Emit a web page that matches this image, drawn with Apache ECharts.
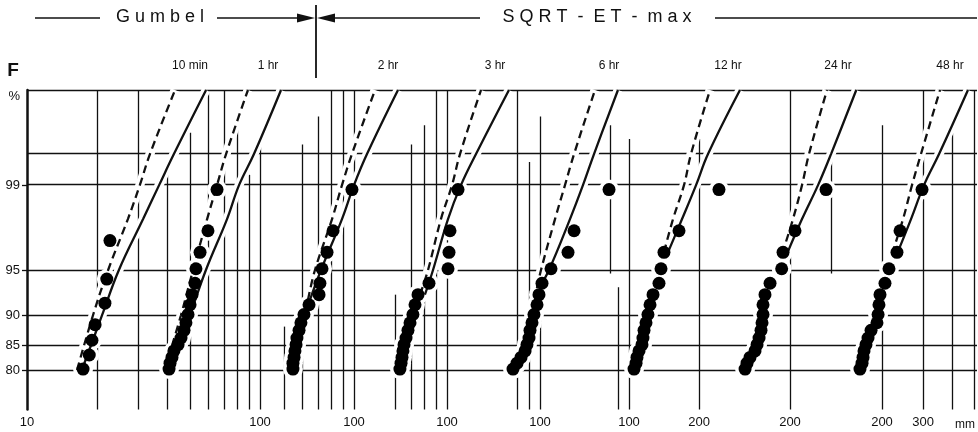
<!DOCTYPE html>
<html><head><meta charset="utf-8">
<script src="https://cdn.jsdelivr.net/npm/echarts@6/dist/echarts.min.js"></script>
<style>html,body{margin:0;padding:0;background:#fff}#c{width:978px;height:432px}</style>
</head><body><div id="c"></div>
<script>
// ---------------- DATA ----------------
const durations = ['10 min','1 hr','2 hr','3 hr','6 hr','12 hr','24 hr','48 hr'];
const yTickLabels = [80, 85, 90, 95, 99];
const gridProbs = [80, 85, 90, 95, 99, 99.5, 99.9];
const xTickLabels = [[10, 100], [100], [100], [100], [100, 200], [200], [200, 300]];

// observed annual maxima: non-exceedance F (%) and depth (mm)
const F_obs10 = [80.2, 83.2, 86.0, 88.6, 91.6, 94.2, 97.0];
const obs_10min = [17.4, 18.5, 19.0, 19.6, 21.6, 22.0, 22.7];
const F_obs = [80.2, 81.5, 82.7, 84.0, 85.2, 86.4, 87.7, 88.9, 90.1, 91.4, 92.6, 93.8, 95.1, 96.3, 97.5, 98.9];
const obs_1hr  = [40.7, 41.1, 41.9, 42.7, 44.5, 45.8, 47.2, 48.1, 49.1, 50.1, 51.1, 52.6, 53.1, 55.3, 59.8, 65.4];
const obs_2hr  = [54.7, 54.7, 55.3, 55.8, 56.4, 56.9, 58.1, 59.2, 61.0, 64.1, 70.8, 71.4, 72.9, 76.6, 81.3, 98.0];
const obs_3hr  = [62.8, 63.5, 64.1, 64.7, 65.4, 66.7, 68.0, 69.4, 71.4, 72.9, 75.1, 83.7, 101.0, 102.0, 103.0, 111.5];
const obs_6hr  = [76.6, 79.7, 82.9, 86.3, 87.9, 89.7, 90.6, 92.4, 94.2, 97.1, 99.0, 102.0, 111.5, 131.9, 140.0, 197.8];
const obs_12hr = [105.1, 107.2, 108.2, 110.4, 113.7, 114.8, 116.0, 118.3, 120.6, 123.1, 126.8, 134.5, 137.2, 141.3, 163.9, 243.3];
const obs_24hr = [128.3, 130.8, 134.7, 141.5, 144.4, 147.3, 150.2, 151.7, 153.2, 153.2, 156.2, 164.2, 184.2, 186.7, 210.1, 285.5];
const obs_48hr = [160.9, 164.2, 165.8, 167.4, 170.7, 174.2, 179.5, 190.3, 192.4, 194.1, 196.1, 206.0, 214.3, 231.9, 239.0, 297.0];

// fitted curves: F (%) levels, dashed and solid curves (mm)
const Fc_10min = [80, 90, 95, 98, 99, 99.5, 99.9];
const dash_10min  = [16.4, 19.2, 22.3, 27.1, 30.5, 33.7, 43.2];
const solid_10min = [17.2, 21.0, 24.8, 31.5, 36.9, 42.7, 58.7];
const Fc_1hr = [85, 90, 95, 98, 99, 99.5, 99.9];
const dash_1hr  = [41.9, 45.8, 51.6, 59.3, 65.4, 71.5, 88.8];
const solid_1hr = [45.4, 50.1, 58.6, 72.2, 81.3, 94.2, 123.1];
const Fc_2hr = [92, 95, 98, 99, 99.5, 99.9];
const dash_2hr  = [63.5, 68.0, 80.5, 88.8, 98.0, 123.1];
const solid_2hr = [64.7, 72.2, 88.8, 100, 113.7, 154.5];
const Fc_3hr = [92.6, 95, 98, 99, 99.5, 99.9];
const dash_3hr  = [76.6, 82.9, 94.2, 105.1, 113.7, 140.0];
const solid_3hr = [80.4, 87.1, 101.0, 114.8, 133.2, 184.5];
const Fc_6hr = [93.3, 95, 98, 99, 99.5, 99.9];
const dash_6hr  = [97, 101, 116.0, 128, 140, 172.2];
const solid_6hr = [99, 109.3, 134.5, 152.9, 170.5, 216.1];
const Fc_12hr = [96.3, 98, 99, 99.5, 99.9];
const dash_12hr  = [141.3, 154.5, 172.2, 184.5, 222.7];
const solid_12hr = [147.0, 168.9, 194.0, 218.3, 299.5];
const Fc_24hr = [96.2, 98, 99, 99.5, 99.9];
const dash_24hr  = [184.9, 206.0, 225.2, 241.3, 288.3];
const solid_24hr = [194.1, 225.2, 263.9, 300.0, 385.0];
const Fc_48hr = [96.2, 98, 99, 99.5, 99.9];
const dash_48hr  = [220.6, 246.2, 269.0, 294.0, 354.9];
const solid_48hr = [232.0, 266.4, 302.9, 351.5, 467.8];

// ---------------- LAYOUT ----------------
const PX_PER_DECADE = 233;
const PLOT_TOP = 90, PLOT_BOTTOM_GAP = 22.5, FRAME_LEFT = 27, FRAME_RIGHT = 977;
const panels = [
  {anchor: 10,  px: 27,  min: 10,  max: 130, vlines: [[20,99.9],[30,99.9],[40,99.2],[50,99.7],[60,99.9],[70,99.9],[80,99.8],[90,99.2],[100,99.6]]},
  {anchor: 100, px: 354, min: 48,  max: 165, vlines: [[50,88.3],[60,99.6],[70,99.8],[80,99.9],[90,99.9],[100,99.9]]},
  {anchor: 100, px: 447, min: 55,  max: 190, vlines: [[60,92.6],[70,99.6],[80,99.75],[90,99.9],[100,99.9]]},
  {anchor: 100, px: 540, min: 70,  max: 225, vlines: [[80,99.9],[90,99.4],[100,99.8],[200,99.75,94.7]]},
  {anchor: 100, px: 629, min: 88,  max: 305, vlines: [[90,93.4],[100,99.65],[200,99.65]]},
  {anchor: 200, px: 790, min: 120, max: 400, vlines: [[200,99.9],[300,99.5,94.7]]},
  {anchor: 200, px: 882, min: 150, max: 510, vlines: [[200,99.75],[300,99.9],[400,99.7],[500,99.9]]}
];
const seriesDefs = [
  {panel:0, F:F_obs10, obs:obs_10min, Fc:Fc_10min, dash:dash_10min, solid:solid_10min},
  {panel:0, F:F_obs, obs:obs_1hr,  Fc:Fc_1hr,  dash:dash_1hr,  solid:solid_1hr},
  {panel:1, F:F_obs, obs:obs_2hr,  Fc:Fc_2hr,  dash:dash_2hr,  solid:solid_2hr},
  {panel:2, F:F_obs, obs:obs_3hr,  Fc:Fc_3hr,  dash:dash_3hr,  solid:solid_3hr},
  {panel:3, F:F_obs, obs:obs_6hr,  Fc:Fc_6hr,  dash:dash_6hr,  solid:solid_6hr},
  {panel:4, F:F_obs, obs:obs_12hr, Fc:Fc_12hr, dash:dash_12hr, solid:solid_12hr},
  {panel:5, F:F_obs, obs:obs_24hr, Fc:Fc_24hr, dash:dash_24hr, solid:solid_24hr},
  {panel:6, F:F_obs, obs:obs_48hr, Fc:Fc_48hr, dash:dash_48hr, solid:solid_48hr}
];
const titleX = [190, 268, 388, 495, 609, 728, 838, 950];

// normal-probability scale (inverse normal CDF, Acklam)
function probit(p) {
  const a=[-3.969683028665376e+01,2.209460984245205e+02,-2.759285104469687e+02,1.383577518672690e+02,-3.066479806614716e+01,2.506628277459239e+00];
  const b=[-5.447609879822406e+01,1.615858368580409e+02,-1.556989798598866e+02,6.680131188771972e+01,-1.328068155288572e+01];
  const c=[-7.784894002430293e-03,-3.223964580411365e-01,-2.400758277161838e+00,-2.549732539343734e+00,4.374664141464968e+00,2.938163982698783e+00];
  const d=[7.784695709041462e-03,3.224671290700398e-01,2.445134137142996e+00,3.754408661907416e+00];
  const pl=0.02425, ph=1-pl; let q, r;
  if (p < pl) { q=Math.sqrt(-2*Math.log(p)); return (((((c[0]*q+c[1])*q+c[2])*q+c[3])*q+c[4])*q+c[5])/((((d[0]*q+d[1])*q+d[2])*q+d[3])*q+1); }
  if (p <= ph) { q=p-0.5; r=q*q; return (((((a[0]*r+a[1])*r+a[2])*r+a[3])*r+a[4])*r+a[5])*q/(((((b[0]*r+b[1])*r+b[2])*r+b[3])*r+b[4])*r+1); }
  q=Math.sqrt(-2*Math.log(1-p)); return -(((((c[0]*q+c[1])*q+c[2])*q+c[3])*q+c[4])*q+c[5])/((((d[0]*q+d[1])*q+d[2])*q+d[3])*q+1);
}
const Z = pct => probit(pct / 100);
const ZMIN = Z(70), ZMAX = Z(99.9);
const INK = '#111';
const FONT = 'Liberation Sans';

// ---------------- OPTION ----------------
const grid = [{left: FRAME_LEFT, width: FRAME_RIGHT - FRAME_LEFT, top: PLOT_TOP, bottom: PLOT_BOTTOM_GAP}];
const xAxis = [{type:'value', gridIndex:0, min:0, max:1, show:false}];
const pctLabelZ = Z(99.88);
const yAxis = [{
  type:'value', gridIndex:0, min:ZMIN, max:ZMAX, z:6,
  axisLine:{show:true, lineStyle:{color:INK, width:2.5}},
  axisTick:{show:true, length:5, customValues: yTickLabels.map(Z), lineStyle:{color:INK, width:1.3}},
  axisLabel:{customValues: yTickLabels.map(Z).concat([pctLabelZ]), margin:7, color:INK, fontSize:13, fontFamily:FONT,
    formatter: v => { if (v > 3) return '%'; let best = yTickLabels[0];
      yTickLabels.forEach(p => { if (Math.abs(Z(p) - v) < Math.abs(Z(best) - v)) best = p; }); return String(best); }},
  splitLine:{show:false}
}];
const series = [];
const lineMark = (data) => ({silent:true, z:1, zlevel:0, symbol:['none','none'], label:{show:false}, emphasis:{disabled:true},
  lineStyle:{color:INK, width:1.3, type:'solid', opacity:1}, data});

// horizontal probability grid lines across the whole figure
series.push({type:'line', xAxisIndex:0, yAxisIndex:0, data:[], z:1, silent:true,
  markLine: lineMark(gridProbs.map(p => ({yAxis: Z(p)})))});

panels.forEach((p, i) => {
  const gi = i + 1;
  const left = p.px - PX_PER_DECADE * Math.log10(p.anchor / p.min);
  const width = PX_PER_DECADE * Math.log10(p.max / p.min);
  grid.push({left, width, top: PLOT_TOP, bottom: PLOT_BOTTOM_GAP});
  xAxis.push({type:'log', logBase:10, gridIndex:gi, min:p.min, max:p.max,
    axisLine:{show:false}, axisTick:{show:false}, splitLine:{show:false}, minorSplitLine:{show:false},
    axisLabel:{customValues: xTickLabels[i], formatter: v => String(Math.round(v)), margin:6, color:INK, fontSize:13, fontFamily:FONT}});
  yAxis.push({type:'value', gridIndex:gi, min:ZMIN, max:ZMAX, show:false});
  series.push({type:'line', xAxisIndex:gi, yAxisIndex:gi, data:[], z:1, silent:true,
    markLine: lineMark(p.vlines.map(v => [{coord:[v[0], Z(v[1])]}, {coord:[v[0], v.length > 2 ? Z(v[2]) : ZMIN]}]))});
});

const pairs = (mm, F) => mm.map((m, k) => [m, Z(F[k])]);
// white halos first (break the grid lines around curves and dots, as in the original)
seriesDefs.forEach(s => {
  const ax = s.panel + 1;
  [s.dash, s.solid].forEach(c => series.push({type:'line', xAxisIndex:ax, yAxisIndex:ax, data:pairs(c, s.Fc), smooth:0.4,
    symbol:'none', z:2, silent:true, lineStyle:{color:'#fff', width:9, opacity:1}}));
  series.push({type:'scatter', xAxisIndex:ax, yAxisIndex:ax, data:pairs(s.obs, s.F), symbolSize:20, z:2, silent:true,
    itemStyle:{color:'#fff', opacity:1}});
});
seriesDefs.forEach((s, k) => {
  const ax = s.panel + 1;
  series.push({name: durations[k] + ' dashed', type:'line', xAxisIndex:ax, yAxisIndex:ax, data:pairs(s.dash, s.Fc), smooth:0.4,
    symbol:'none', z:3, silent:true, lineStyle:{color:INK, width:2.3, type:[8,5], opacity:1}});
  series.push({name: durations[k] + ' solid', type:'line', xAxisIndex:ax, yAxisIndex:ax, data:pairs(s.solid, s.Fc), smooth:0.4,
    symbol:'none', z:3, silent:true, lineStyle:{color:INK, width:2.3, opacity:1}});
  series.push({name: durations[k], type:'scatter', xAxisIndex:ax, yAxisIndex:ax, data:pairs(s.obs, s.F), symbolSize:13, z:4,
    silent:true, itemStyle:{color:'#000', opacity:1}});
});

const txt = (x, y, text, size, extra) => Object.assign({type:'text', x, y, silent:true,
  style:Object.assign({text, fill:INK, fontSize:size, fontFamily:FONT, align:'center', verticalAlign:'middle'}, extra || {})});
const seg = (x1, y1, x2, y2, w) => ({type:'line', silent:true, shape:{x1, y1, x2, y2}, style:{stroke:INK, lineWidth:w || 1.6}});
const graphic = [
  seg(35, 18, 100, 18), txt(160, 17, 'G u m b e l', 18),
  seg(217, 18, 300, 18),
  {type:'polygon', silent:true, shape:{points:[[297,13.5],[315,18],[297,22.5]]}, style:{fill:INK}},
  seg(316, 5, 316, 78, 1.8),
  {type:'polygon', silent:true, shape:{points:[[317,18],[335,13.5],[335,22.5]]}, style:{fill:INK}},
  seg(334, 18, 480, 18),
  txt(597, 17, 'S Q R T  -  E T  -  m a x', 18),
  seg(715, 18, 977, 18),
  txt(13, 71, 'F', 19, {fontWeight:'bold'}),
  txt(965, 425, 'mm', 12)
];
durations.forEach((d, i) => graphic.push(txt(titleX[i], 66, d, 12)));

const chart = echarts.init(document.getElementById('c'), null, {renderer:'canvas'});
chart.setOption({animation:false, backgroundColor:'#fff', grid, xAxis, yAxis, series, graphic});
</script></body></html>
